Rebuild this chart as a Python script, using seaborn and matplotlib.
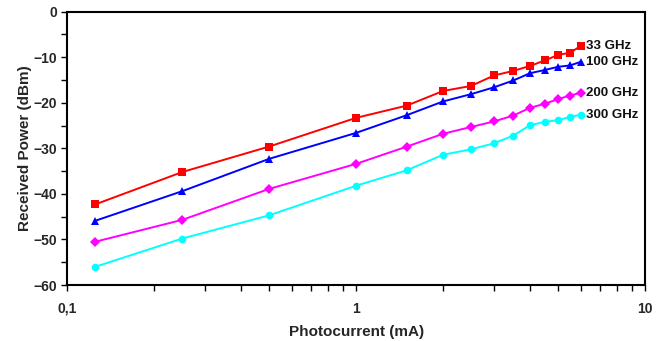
import matplotlib
matplotlib.use("Agg")
import matplotlib.pyplot as plt
import matplotlib.ticker as mticker
import numpy as np
import pandas as pd
import seaborn as sns

sns.set_theme(style="white")
plt.rcParams["font.family"] = ["Liberation Sans", "DejaVu Sans"]
plt.rcParams["font.weight"] = "bold"

# Photocurrent (mA) at which the received power was measured
current_ma = [0.125, 0.25, 0.5, 1, 1.5, 2, 2.5, 3, 3.5, 4, 4.5, 5, 5.5, 6]

# Received power (dBm) per carrier frequency
power_33ghz = [-42.3, -35.2, -29.6, -23.3, -20.6, -17.4, -16.3, -14.0, -13.0, -11.9, -10.7, -9.5, -9.0, -7.5]
power_100ghz = [-45.9, -39.4, -32.3, -26.6, -22.7, -19.7, -18.1, -16.6, -15.1, -13.5, -12.8, -12.1, -11.8, -11.0]
power_200ghz = [-50.5, -45.7, -38.9, -33.4, -29.6, -26.8, -25.3, -24.1, -22.8, -21.1, -20.2, -19.2, -18.4, -17.8]
power_300ghz = [-56.0, -49.8, -44.7, -38.2, -34.8, -31.4, -30.2, -28.9, -27.2, -24.9, -24.2, -23.8, -23.1, -22.6]

series_names = ["33 GHz", "100 GHz", "200 GHz", "300 GHz"]
series_values = [power_33ghz, power_100ghz, power_200ghz, power_300ghz]
colors = ["#ff0000", "#0000ff", "#ff00ff", "#00ffff"]
markers = ["s", "^", "D", "o"]
marker_sizes = [5.5, 6, 4.6, 5.5]

df = pd.DataFrame({
    "current": np.tile(current_ma, len(series_names)),
    "power": np.concatenate(series_values),
    "series": np.repeat(series_names, len(current_ma)),
})

fig = plt.figure(figsize=(6.61, 3.41), dpi=100)
ax = fig.add_axes([0.1018, 0.1642, 0.8740, 0.8015])

for name, col, mk, ms in zip(series_names, colors, markers, marker_sizes):
    sub = df[df["series"] == name]
    sns.lineplot(data=sub, x="current", y="power", ax=ax, color=col,
                 marker=mk, markersize=ms, markeredgewidth=0,
                 linewidth=1.4, legend=False, estimator=None, sort=False)
    ax.annotate(name, xy=(sub["current"].iloc[-1], sub["power"].iloc[-1]),
                xytext=(4, 0), textcoords="offset points",
                ha="left", va="center", fontsize=9.5, fontweight="bold",
                color="#111111")

ax.set_xscale("log")
ax.set_xlim(0.1, 10)
ax.set_ylim(-60, 0)
ax.xaxis.set_major_locator(mticker.FixedLocator([0.1, 1, 10]))
ax.xaxis.set_major_formatter(mticker.FixedFormatter(["0,1", "1", "10"]))
ax.xaxis.set_minor_locator(mticker.LogLocator(base=10, subs=np.arange(2, 10)))
ax.xaxis.set_minor_formatter(mticker.NullFormatter())
ax.yaxis.set_major_locator(mticker.MultipleLocator(10))
ax.yaxis.set_minor_locator(mticker.MultipleLocator(5))

ax.tick_params(axis="both", which="both", direction="out", length=4,
               width=1, color="black", labelsize=10)
ax.tick_params(axis="x", which="major", pad=8)
ax.tick_params(axis="x", which="both", bottom=True)
ax.tick_params(axis="y", which="both", left=True)
for lab in ax.get_xticklabels() + ax.get_yticklabels():
    lab.set_fontweight("bold")

for sp in ax.spines.values():
    sp.set_visible(True)
    sp.set_color("black")
    sp.set_linewidth(1.5)

ax.set_xlabel("Photocurrent (mA)", fontsize=11, fontweight="bold", labelpad=7)
ax.set_ylabel("Received Power (dBm)", fontsize=11, fontweight="bold", labelpad=1)
ax.grid(False)

fig.savefig("out.png", dpi=100)
